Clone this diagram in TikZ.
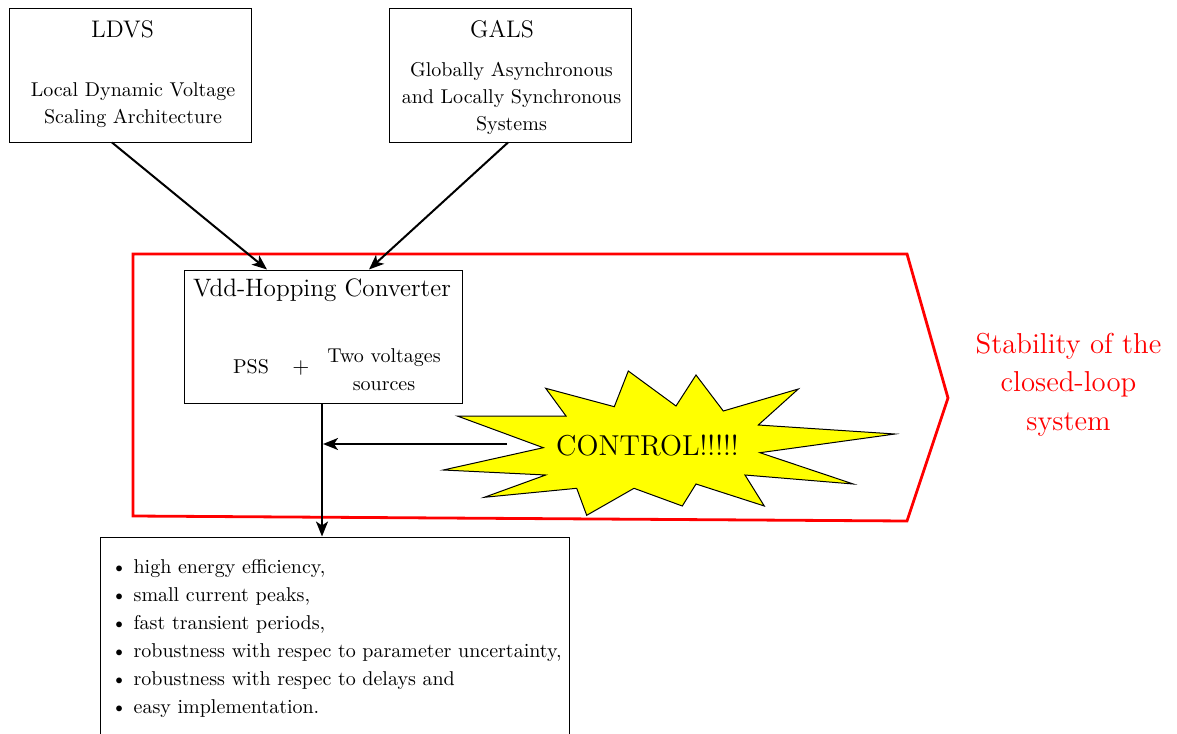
\documentclass[tikz,border=0pt]{standalone}
\usetikzlibrary{arrows.meta,fit}
\definecolor{burstyellow}{RGB}{255,255,0}
\definecolor{framered}{RGB}{255,0,0}
\begin{document}
\begin{tikzpicture}[x=0.5pt,y=-0.5pt,
  boxst/.style={draw, line width=0.5pt, inner sep=0pt, fit={#1}},
  ttl/.style={anchor=base, font=\fontsize{12}{14}\selectfont},
  body/.style={anchor=base, align=center, font=\fontsize{10}{13.5}\selectfont},
  arr/.style={line width=1pt, -{Stealth[length=7.5pt,width=6pt,inset=2pt]}},
  redfr/.style={draw=framered, line width=1.4pt},
  burst/.style={draw=black, line width=0.5pt, fill=burstyellow}]
\useasboundingbox (0,0) rectangle (1177,733);
% top boxes
\node[boxst={(9,9) (251,142)}] (ldvs) {};
\node[ttl] (ldvsT) at (122.5,37.3) {LDVS};
\node[body] (ldvsB) at (133,123.3) {Local Dynamic Voltage\\Scaling Architecture};
\node[boxst={(389,9) (631,142)}] (gals) {};
\node[ttl] (galsT) at (502,37.3) {GALS};
\node[body] (galsB) at (511.5,130.5) {Globally Asynchronous\\and Locally Synchronous\\Systems};
% red frame
\draw[redfr] (133,254) -- (907,254) -- (948,398) -- (907,521) -- (133,516) -- cycle;
% Vdd box
\node[boxst={(184,270) (462,403)}] (vdd) {};
\node[ttl, font=\fontsize{12.6}{14}\selectfont] (vddT) at (322,296) {Vdd-Hopping Converter};
\node[anchor=base, font=\fontsize{10}{12}\selectfont] (pss) at (251,373) {PSS};
\node[anchor=base, font=\fontsize{11}{12}\selectfont] (plus) at (301,373) {$+$};
\node[body, font=\fontsize{10}{14}\selectfont] (two) at (384,390) {Two voltages\\sources};
% list box
\node[boxst={(100,537) (569,760)}] (list) {};
\node[anchor=base west, align=left, inner sep=0pt, font=\fontsize{10}{14}\selectfont] (items) at (111,713) {%
\textbullet\ high energy efficiency,\\
\textbullet\ small current peaks,\\
\textbullet\ fast transient periods,\\
\textbullet\ robustness with respec to parameter uncertainty,\\
\textbullet\ robustness with respec to delays and\\
\textbullet\ easy implementation.};
% starburst
\draw[burst] (457.3,416) -- (566,416) -- (545.7,388.3) -- (614.3,406.7) -- (628.3,371)
  -- (676,406) -- (696,375) -- (723.3,411) -- (798.3,389) -- (758.3,425) -- (895,434)
  -- (760,452.7) -- (853.3,484) -- (745,475) -- (764.3,506) -- (696,484) -- (682.3,506)
  -- (634,488.3) -- (586.7,515.3) -- (576.7,488.3) -- (484.3,497.3) -- (545.7,475)
  -- (443.3,470) -- (543.3,447.7) -- cycle;
\node[anchor=base, font=\fontsize{14.4}{18}\selectfont] (control) at (647.5,455) {CONTROL!!!!!};
% stability
\node[anchor=base, align=center, text=framered, font=\fontsize{14.4}{19.2}\selectfont] (stab) at (1068.5,430) {Stability of the\\closed-loop\\system};
% connectors
\coordinate (ctl) at (507,444);
\draw[arr] ([xshift=-9pt]ldvs.south) -- ([xshift=-28pt]vdd.north);
\draw[arr] ([xshift=-1pt]gals.south) -- ([xshift=23pt]vdd.north);
\draw[arr] ([xshift=-0.5pt]vdd.south) -- ([xshift=-0.5pt]vdd.south |- list.north);
\draw[arr] (ctl) -- (ctl -| vdd.south);
\end{tikzpicture}
\end{document}
